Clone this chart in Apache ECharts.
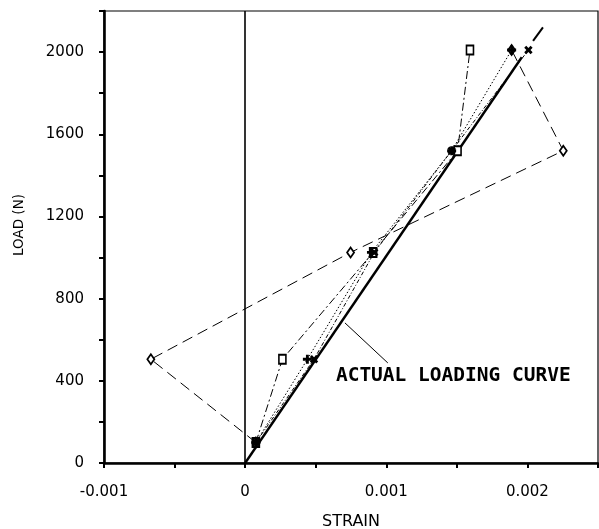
<!DOCTYPE html>
<html>
<head>
<meta charset="utf-8">
<script src="https://cdn.jsdelivr.net/npm/echarts@6/dist/echarts.min.js"></script>
<style>
html,body{margin:0;padding:0;background:#fff;}
#chart{width:599px;height:529px;}
</style>
</head>
<body>
<div id="chart"></div>
<script>
// ---- data ----
const loads = [100, 505, 1025, 1520, 2010];
const diamondStrain = [0.000076, -0.000668, 0.000747, 0.002254, 0.001888];
const squareStrain  = [0.000076, 0.000264, 0.000907, 0.001505, 0.001593];
const plusStrain    = [0.000076, 0.000441, 0.000895, 0.001463, 0.001888];
const crossStrain   = [0.000076, 0.000488, 0.000915, 0.001463, 0.002007];
const actualStrain  = [0, 0.00196];
const actualLoad    = [0, 1975];
const extStrain     = [0.00204, 0.00211];
const extLoad       = [2055, 2120];
const leaderStrain  = [0.000707, 0.001011];
const leaderLoad    = [682, 487];
const annotationPos = [0.000643, 424];
const annotationText = 'ACTUAL LOADING CURVE';
const xTickValues = [-0.001, 0, 0.001, 0.002];
const xTickLabels = ['-0.001', '0', '0.001', '0.002'];
const yTickValues = [0, 400, 800, 1200, 1600, 2000];
const yTickLabels = ['0', '400', '800', '1200', '1600', '2000'];
const xTitle = 'STRAIN';
const yTitle = 'LOAD (N)';

function pairs(xs, ys) { return xs.map((x, i) => [x, ys[i]]); }
function findLabel(vals, labels, v) {
  for (let i = 0; i < vals.length; i++) if (Math.abs(vals[i] - v) < 1e-9 * Math.max(1, Math.abs(vals[i]))) return labels[i];
  return '';
}

const plusPath = 'path://M3.4,0H6.6V3.4H10V6.6H6.6V10H3.4V6.6H0V3.4H3.4Z';
const font = "'DejaVu Sans', sans-serif";

function markerSeries(name, xs, symbol, size, dash, opts) {
  return Object.assign({
    name: name,
    type: 'line',
    data: pairs(xs, loads),
    symbol: symbol,
    symbolSize: size,
    showAllSymbol: true,
    lineStyle: { color: '#000', width: 1, type: dash },
    itemStyle: { color: '#000', borderColor: '#000', borderWidth: 0 },
    z: 3
  }, opts || {});
}

const chart = echarts.init(document.getElementById('chart'), null, { renderer: 'canvas' });
chart.setOption({
  animation: false,
  backgroundColor: '#fff',
  grid: { left: 104, right: 1, top: 11, bottom: 66, show: true, borderColor: '#000', borderWidth: 1.2,
          containLabel: false, outerBoundsMode: 'none' },
  xAxis: {
    type: 'value', min: -0.001, max: 0.0025, interval: 0.0005,
    name: xTitle, nameLocation: 'middle', nameGap: 51,
    nameTextStyle: { fontFamily: font, fontSize: 16, color: '#000' },
    axisLine: { show: true, onZero: false, lineStyle: { color: '#000', width: 2.6 } },
    axisTick: { show: true, inside: false, length: 5, lineStyle: { color: '#000', width: 2 } },
    axisLabel: { margin: 22, fontFamily: font, fontSize: 15, color: '#000',
      formatter: v => findLabel(xTickValues, xTickLabels, v) },
    splitLine: { show: false }
  },
  yAxis: {
    type: 'value', min: 0, max: 2200, interval: 200,
    axisLine: { show: true, onZero: false, lineStyle: { color: '#000', width: 2.6 } },
    axisTick: { show: true, inside: false, length: 5, lineStyle: { color: '#000', width: 2 } },
    axisLabel: { margin: 20, fontFamily: font, fontSize: 15, color: '#000',
      formatter: v => findLabel(yTickValues, yTickLabels, v) },
    splitLine: { show: false }
  },
  graphic: [{
    type: 'text', x: 19, y: 225, rotation: Math.PI / 2,
    style: { text: yTitle, font: "13.5px 'DejaVu Sans', sans-serif", fill: '#000', textAlign: 'center', textVerticalAlign: 'middle' }
  }],
  series: [
    {
      name: 'actual', type: 'line', data: pairs(actualStrain, actualLoad), symbol: 'none',
      lineStyle: { color: '#000', width: 2.4, type: 'solid' }, z: 2,
      markLine: {
        silent: true, symbol: ['none', 'none'], animation: false,
        label: { show: false },
        lineStyle: { color: '#000', width: 1, type: 'solid' },
        data: [
          [{ coord: [leaderStrain[0], leaderLoad[0]] }, { coord: [leaderStrain[1], leaderLoad[1]] }],
          [{ xAxis: 0, yAxis: 0, lineStyle: { width: 1.6 } }, { xAxis: 0, yAxis: 2200 }]
        ]
      },
      markPoint: {
        silent: true, symbol: 'circle', symbolSize: 0, animation: false,
        label: { show: true, position: 'right', distance: 0, formatter: annotationText,
          fontFamily: "'DejaVu Sans Mono', monospace", fontWeight: 'bold', fontSize: 19.5, color: '#000' },
        data: [{ coord: annotationPos }]
      }
    },
    {
      name: 'ext', type: 'line', data: pairs(extStrain, extLoad), symbol: 'none',
      lineStyle: { color: '#000', width: 2, type: 'solid' }, z: 2
    },
    markerSeries('diamond', diamondStrain, 'diamond', [7, 10], [11, 6], {
      itemStyle: { color: '#fff', borderColor: '#000', borderWidth: 1.8 }
    }),
    markerSeries('square', squareStrain, 'rect', [7, 9], [8, 3, 2, 3], {
      itemStyle: { color: '#fff', borderColor: '#000', borderWidth: 1.8 }
    }),
    markerSeries('plus', plusStrain, plusPath, 9, [1.5, 2]),
    markerSeries('cross', crossStrain, plusPath, 9, [4, 2, 1, 2], { symbolRotate: 45 })
  ]
});
</script>
</body>
</html>
